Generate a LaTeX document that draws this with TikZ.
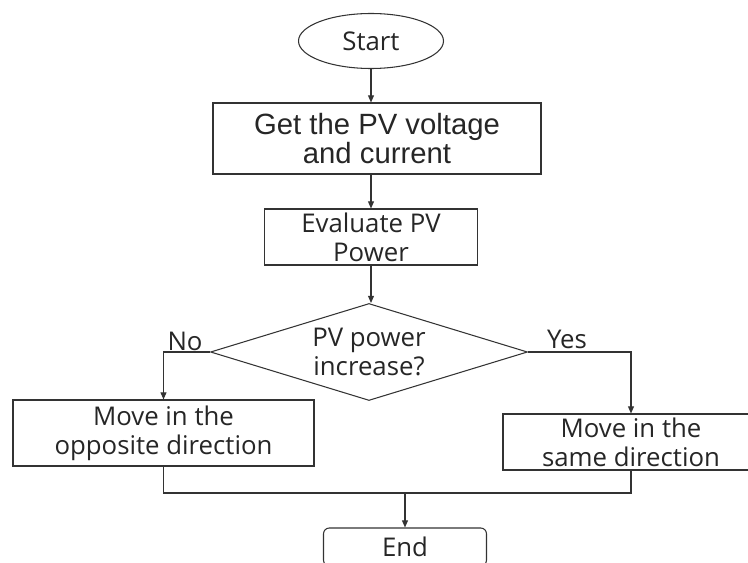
\documentclass[tikz,border=0pt]{standalone}
\usepackage{fontspec}
\setmainfont{Open Sans}
\newfontfamily\arialfont{Liberation Sans}
\usetikzlibrary{shapes.geometric,arrows.meta}

\begin{document}
\begin{tikzpicture}[x=0.03cm, y=-0.03cm,
    flow/.style={draw=black!80, line width=0.9pt},
    arr/.style={flow, -{Triangle[length=6pt,width=5pt]}},
    stepbox/.style={draw=black!80, line width=0.9pt, align=center, inner sep=0pt,
      text=black!85, font=\fontsize{22}{24.7}\selectfont},
    decision/.style={draw=black!80, line width=0.9pt, diamond, inner sep=0pt},
    txt/.style={align=center, inner sep=0pt, text=black!85, font=\fontsize{22}{24.7}\selectfont}]
  \useasboundingbox (0,0) rectangle (748,563);
  % top: start and the two steps
  \node[stepbox, ellipse, minimum width=4.35cm, minimum height=1.65cm] (start) at (371,41) {Start};
  \node[stepbox, minimum width=9.84cm, minimum height=2.13cm,
    font=\arialfont\fontsize{25}{24.7}\selectfont] (getvi) at (377,138.5) {Get the PV voltage\\and current};
  \node[stepbox, minimum width=6.39cm, minimum height=1.68cm] (evalp) at (371,237) {Evaluate PV\\Power};
  % decision
  \node[decision, minimum width=9.51cm, minimum height=2.91cm] (dec) at (369,352) {};
  \node[txt] (dectext) at (dec) {PV power\\increase?};
  \node[txt] (nolbl) at (185,341) {No};
  \node[txt] (yeslbl) at (567,339) {Yes};
  % the two moves
  \node[stepbox, minimum width=9.03cm, minimum height=1.98cm] (opp) at (163.5,433) {Move in the\\opposite direction};
  \node[stepbox, minimum width=7.68cm, minimum height=1.68cm] (same) at (631,442) {Move in the\\same direction};
  % end (cut by the page)
  \node[stepbox, rounded corners=5pt, minimum width=4.89cm, minimum height=1.14cm] (end) at (405,547) {End};
  \coordinate (join) at (405,493);

  \draw[arr] (start.south) -- (start.south |- getvi.north);
  \draw[arr] (evalp.north |- getvi.south) -- (evalp.north);
  \draw[arr] (evalp.south) -- (evalp.south |- dec.north);
  \draw[arr] (dec.west) -| (opp.north);
  \draw[arr] (dec.east) -| (same.north);
  \draw[flow] (opp.south) |- (join) -| (same.south);
  \draw[arr] (join) -- (end.north);
\end{tikzpicture}
\end{document}
